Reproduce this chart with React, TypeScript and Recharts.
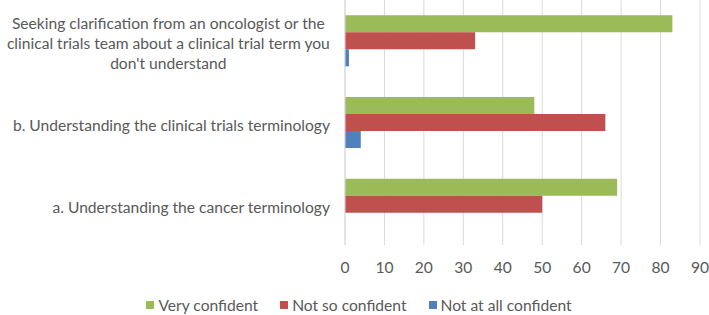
import { BarChart, Bar, XAxis, YAxis, CartesianGrid, Legend } from "recharts"

const questions = [
  "Seeking clarification from an oncologist or the clinical trials team about a clinical trial term you don't understand",
  "b. Understanding the clinical trials terminology",
  "a. Understanding the cancer terminology",
]
const veryConfident = [83, 48, 69]
const notSoConfident = [33, 66, 50]
const notAtAllConfident = [1, 4, 0]
const xTicks = [0, 10, 20, 30, 40, 50, 60, 70, 80, 90]
const seriesNames = ["Very confident", "Not so confident", "Not at all confident"]

const data = questions.map((q, i) => ({
  q,
  very: veryConfident[i],
  notSo: notSoConfident[i],
  notAtAll: notAtAllConfident[i],
}))

const FONT = "Lato, 'Open Sans', sans-serif"
const FONT_SIZE = 15.6
const TEXT = "#595959"
const GRID = "#D9D9D9"
const LINE_H = 20
const WRAP_W = 330

let ctx: CanvasRenderingContext2D | null = null
function measure(s: string) {
  if (!ctx) ctx = document.createElement("canvas").getContext("2d")
  if (!ctx) return s.length * 7
  ctx.font = `${FONT_SIZE}px ${FONT}`
  return ctx.measureText(s).width
}

// greedy word wrap, like the spreadsheet does for long category names
function wrap(s: string) {
  const words = s.split(" ")
  const lines: string[] = []
  let cur = ""
  for (const w of words) {
    const next = cur ? cur + " " + w : w
    if (cur && measure(next) > WRAP_W) {
      lines.push(cur)
      cur = w
    } else {
      cur = next
    }
  }
  if (cur) lines.push(cur)
  return lines
}

function CategoryTick(props: any) {
  const { x, y, payload } = props
  const lines = wrap(String(payload.value))
  if (lines.length === 1) {
    return (
      <text x={x} y={y + 8.5} textAnchor="end" fill={TEXT} fontSize={FONT_SIZE} fontFamily={FONT}>
        {lines[0]}
      </text>
    )
  }
  // multi-line labels: block sits right-aligned, each line centred in it
  const blockW = Math.max(...lines.map(measure))
  const cx = Math.max(x - blockW / 2, blockW / 2 + 1)
  return (
    <text textAnchor="middle" fill={TEXT} fontSize={FONT_SIZE} fontFamily={FONT}>
      {lines.map((l, i) => (
        <tspan key={i} x={cx} y={y + 8.5 + (i - (lines.length - 1) / 2) * LINE_H}>
          {l}
        </tspan>
      ))}
    </text>
  )
}

function LegendRow(props: any) {
  // vertical layout hands the payload over reversed; keep series order
  const items = [...(props.payload || [])].sort(
    (a: any, b: any) => seriesNames.indexOf(a.value) - seriesNames.indexOf(b.value)
  )
  return (
    <div
      style={{
        display: "flex",
        justifyContent: "center",
        alignItems: "center",
        height: 20,
        gap: 22,
        fontFamily: FONT,
        fontSize: FONT_SIZE,
        color: TEXT,
        paddingLeft: 18,
      }}
    >
      {items.map((it: any) => (
        <div key={it.value} style={{ display: "flex", alignItems: "center" }}>
          <span style={{ width: 8, height: 8, background: it.color, marginRight: 4, display: "inline-block" }} />
          <span>{it.value}</span>
        </div>
      ))}
    </div>
  )
}

export default function ConfidenceChart() {
  return (
    <div style={{ position: "absolute", left: 0, top: 0 }}>
      <BarChart
        width={709}
        height={315}
        data={data}
        layout="vertical"
        margin={{ top: 0, right: 9, bottom: 0, left: 0 }}
        barCategoryGap="18.75%"
        barGap={0}
      >
        <CartesianGrid horizontal={false} stroke={GRID} />
        <XAxis
          type="number"
          domain={[0, 90]}
          ticks={xTicks}
          axisLine={false}
          tickLine={false}
          tickSize={0}
          tickMargin={17}
          height={50}
          tick={{ fill: TEXT, fontSize: FONT_SIZE, fontFamily: FONT }}
        />
        <YAxis
          type="category"
          dataKey="q"
          width={345}
          interval={0}
          tickLine={false}
          tickSize={0}
          tickMargin={15}
          axisLine={{ stroke: GRID }}
          tick={<CategoryTick />}
        />
        <Legend verticalAlign="bottom" content={<LegendRow />} />
        <Bar dataKey="very" name={seriesNames[0]} fill="#9BBB59" isAnimationActive={false} />
        <Bar dataKey="notSo" name={seriesNames[1]} fill="#C0504D" isAnimationActive={false} />
        <Bar dataKey="notAtAll" name={seriesNames[2]} fill="#4F81BD" isAnimationActive={false} />
      </BarChart>
    </div>
  )
}
